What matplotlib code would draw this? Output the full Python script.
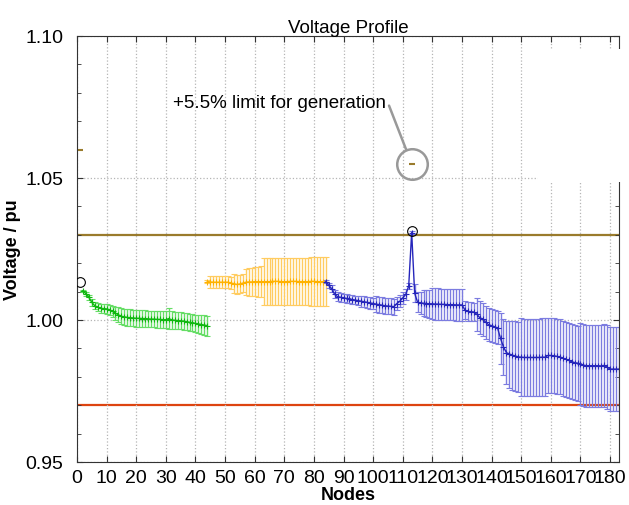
#!/usr/bin/env python3

import matplotlib.pyplot as plt
from matplotlib.patches import Rectangle
import numpy as np

plt.rcParams['font.family'] = ['Liberation Sans', 'DejaVu Sans']

# feeder branches: node numbers, mean voltage (pu), spread (+/- pu)
green_nodes = np.arange(2, 45)
green_mean = [1.0103, 1.0092, 1.0080, 1.0062, 1.0050, 1.0045, 1.0041, 1.0040,
              1.0039, 1.0036, 1.0030, 1.0024, 1.0018, 1.0013, 1.0011, 1.0009,
              1.0008, 1.0007, 1.0006, 1.0006, 1.0005, 1.0005, 1.0004, 1.0003,
              1.0003, 1.0002, 1.0002, 1.0001, 1.0001, 1.0005, 1.0000, 0.9999,
              0.9998, 0.9997, 0.9996, 0.9994, 0.9992, 0.9990, 0.9988, 0.9986,
              0.9984, 0.9982, 0.9980]
green_err = [.0004, .0006, .0008, .0011, .0013, .0015, .0016, .0017, .0017,
             .0018, .0020, .0023, .0026, .0028, .0029, .0029, .0029, .0029,
             .0029, .0029, .0029, .0029, .0029, .0029, .0029, .0029, .0029,
             .0029, .0029, .0036, .0030, .0030, .0030, .0030, .0030, .0030,
             .0030, .0030, .0031, .0032, .0033, .0034, .0035]

orange_nodes = np.arange(44, 85)
orange_mean = [1.0135, 1.0134, 1.0133, 1.0133, 1.0133, 1.0133, 1.0133, 1.0133,
               1.0130, 1.0128, 1.0125, 1.0127, 1.0130, 1.0133, 1.0134, 1.0134,
               1.0135, 1.0135, 1.0135, 1.0135, 1.0135, 1.0135, 1.0136, 1.0136,
               1.0136, 1.0135, 1.0135, 1.0135, 1.0136, 1.0136, 1.0136, 1.0135,
               1.0135, 1.0135, 1.0135, 1.0136, 1.0136, 1.0135, 1.0135, 1.0135,
               1.0135]
orange_err = [.0006, .0022, .0022, .0022, .0022, .0022, .0022, .0022, .0022,
              .0033, .0033, .0033, .0033, .0045, .0048, .0050, .0052, .0053,
              .0055, .0082, .0082, .0082, .0082, .0082, .0082, .0082, .0082,
              .0082, .0082, .0082, .0082, .0082, .0082, .0082, .0082, .0087,
              .0087, .0087, .0087, .0087, .0087]

blue_nodes = np.arange(84, 184)
blue_mean = [1.0135, 1.0122, 1.0110, 1.0090, 1.0082, 1.0080, 1.0078, 1.0076,
             1.0074, 1.0072, 1.0070, 1.0068, 1.0066, 1.0064, 1.0062, 1.0060,
             1.0058, 1.0056, 1.0054, 1.0052, 1.0050, 1.0049, 1.0048, 1.0047,
             1.0058, 1.0066, 1.0078, 1.0090, 1.0120, 1.0308, 1.0095, 1.0062,
             1.0060, 1.0059, 1.0058, 1.0057, 1.0057, 1.0056, 1.0056, 1.0055,
             1.0055, 1.0054, 1.0054, 1.0054, 1.0053, 1.0053, 1.0053, 1.0035,
             1.0030, 1.0029, 1.0028, 1.0020, 1.0008, 1.0003, 0.9992, 0.9983,
             0.9980, 0.9976, 0.9972, 0.9935, 0.9905, 0.9885, 0.9880, 0.9876,
             0.9873, 0.9870, 0.9869, 0.9868, 0.9868, 0.9868, 0.9868, 0.9868,
             0.9868, 0.9869, 0.9869, 0.9875, 0.9875, 0.9874, 0.9872, 0.9870,
             0.9866, 0.9862, 0.9858, 0.9853, 0.9850, 0.9848, 0.9845, 0.9841,
             0.9839, 0.9839, 0.9839, 0.9839, 0.9839, 0.9838, 0.9840, 0.9834,
             0.9827, 0.9827, 0.9827, 0.9827]
blue_err = [.0005, .0008, .0012, .0014, .0015, .0015, .0015, .0015, .0015,
            .0015, .0015, .0015, .0020, .0020, .0020, .0020, .0020, .0028,
            .0028, .0028, .0028, .0028, .0028, .0028, .0024, .0022, .0020,
            .0018, .0012, .0004, .0030, .0035, .0040, .0045, .0048, .0050,
            .0055, .0055, .0055, .0055, .0055, .0055, .0055, .0055, .0055,
            .0055, .0055, .0033, .0033, .0033, .0033, .0058, .0058, .0058,
            .0058, .0058, .0058, .0058, .0058, .0090, .0100, .0110, .0118,
            .0122, .0123, .0124, .0137, .0137, .0137, .0137, .0137, .0137,
            .0137, .0137, .0137, .0132, .0132, .0132, .0132, .0132, .0132,
            .0132, .0132, .0132, .0132, .0132, .0144, .0144, .0144, .0144,
            .0144, .0144, .0144, .0144, .0147, .0147, .0147, .0147, .0147,
            .0147]

upper_limit = 1.03
lower_limit = 0.97
gen_limit = 1.055
gen_node = 113
max_points = ([1, 113], [1.0134, 1.0313])

fig = plt.figure(figsize=(6.29, 5.06), dpi=100)
ax = fig.add_axes([0.1224, 0.085, 0.8617, 0.8419])

ax.axhline(upper_limit, color='#9a7b2c', lw=1.6, zorder=1)
ax.axhline(lower_limit, color='#dd4410', lw=1.6, zorder=1)

for nodes, mean, err, col, ecol in [
        (green_nodes, green_mean, green_err, '#10b810', '#66dd66'),
        (orange_nodes, orange_mean, orange_err, '#ffb200', '#ffcc60'),
        (blue_nodes, blue_mean, blue_err, '#2626bb', '#7c7ce0')]:
    eb = ax.errorbar(nodes, mean, yerr=err, color=col, ecolor=ecol,
                     elinewidth=1, capsize=2.5, capthick=1, lw=1, marker='+',
                     ms=4, mew=0.8, zorder=2)
    for cap in eb[1]:
        cap.set_color(col)

ax.plot(*max_points, 'o', mfc='none', mec='black', ms=7, mew=0.8, zorder=3)

# +5.5% generation limit point with callout
ax.plot([gen_node], [gen_limit], '_', color='#9a7b2c', ms=5, mew=1.5)
ax.plot([0.9], [1.06], '_', color='#9a7b2c', ms=4, mew=1.5, clip_on=False)
ax.plot([gen_node], [gen_limit], 'o', mfc='none', mec='#999999', ms=22, mew=1.8)
ax.annotate('+5.5% limit for generation', xy=(gen_node, gen_limit),
            xytext=(32.5, 1.0765), fontsize=13.5, va='center', ha='left',
            arrowprops=dict(arrowstyle='-', color='#999999', lw=1.8,
                            relpos=(1.0, 0.75), shrinkA=0, shrinkB=11))

ax.set_xlim(0, 183)
ax.set_ylim(0.95, 1.10)
ax.set_xticks(np.arange(0, 181, 10))
ax.set_yticks([0.95, 1.00, 1.05, 1.10])
ax.set_yticklabels(['0.95', '1.00', '1.05', '1.10'])
ax.set_yticks(np.arange(0.95, 1.1, 0.01), minor=True)
ax.tick_params(which='both', direction='in', top=True, right=True,
               colors='#333333', labelcolor='black')
ax.tick_params(axis='x', length=4, labelsize=14, pad=5)
ax.tick_params(axis='y', length=4, labelsize=14, pad=10)
ax.tick_params(which='minor', length=3)
for s in ax.spines.values():
    s.set_color('#333333')
ax.grid(True, which='major', ls=':', color='#b5b5b5', lw=0.9)

# blank patch in the upper right corner
ax.add_patch(Rectangle((0.8506, 0.657), 0.17, 0.313, transform=ax.transAxes,
                       facecolor='white', edgecolor='none', clip_on=False,
                       zorder=2.6))

ax.set_title('Voltage Profile', fontsize=13.5, pad=3)
ax.set_xlabel('Nodes', fontsize=13, fontweight='bold', labelpad=0)
ax.set_ylabel('Voltage / pu', fontsize=13, fontweight='bold', labelpad=3)

fig.savefig('out.png', dpi=100)
